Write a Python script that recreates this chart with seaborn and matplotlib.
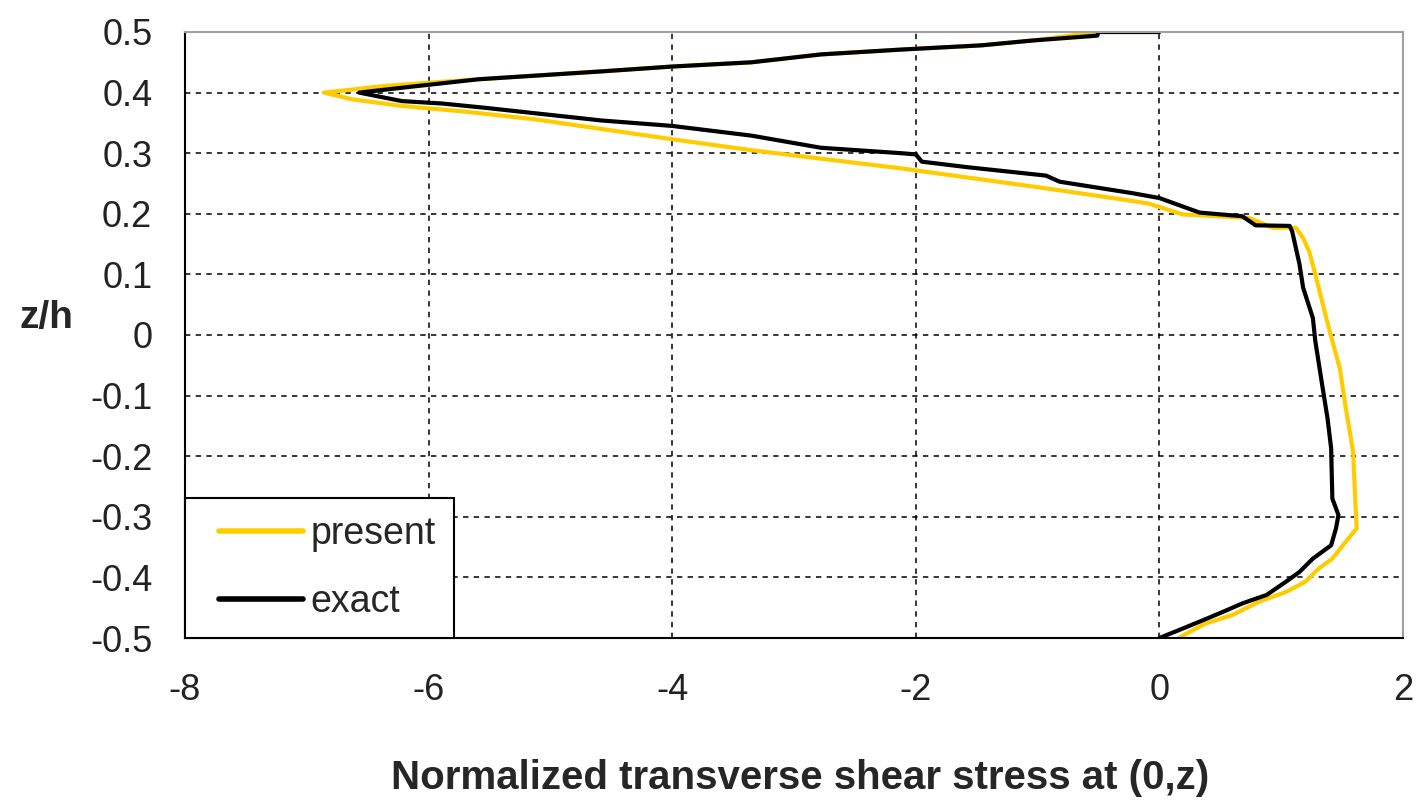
import matplotlib
matplotlib.use("Agg")
import matplotlib.pyplot as plt
import seaborn as sns
import pandas as pd

# ---- data ----
present_x = [0.0, -0.5, -1.04, -1.46, -2.12, -2.78, -3.35, -4.0, -4.58, -5.59, -5.95, -6.36, -6.86,
             -6.63, -6.22, -5.67, -5.13, -4.58, -4.0, -3.35, -2.78, -2.12, -1.58, -0.93, -0.35, -0.09,
             0.19, 0.74, 0.93, 1.12, 1.18, 1.23, 1.28, 1.37, 1.42, 1.48, 1.53, 1.59, 1.61, 1.62,
             1.53, 1.42, 1.31, 1.20, 1.04, 0.82, 0.60, 0.38, 0.22, 0.16]
present_z = [0.5, 0.5, 0.486, 0.478, 0.471, 0.463, 0.450, 0.443, 0.435, 0.422, 0.417, 0.411, 0.400,
             0.389, 0.378, 0.368, 0.356, 0.340, 0.323, 0.305, 0.291, 0.275, 0.260, 0.242, 0.225, 0.217,
             0.199, 0.193, 0.177, 0.177, 0.160, 0.138, 0.100, 0.028, -0.010, -0.054, -0.120, -0.192, -0.281, -0.319,
             -0.341, -0.369, -0.385, -0.407, -0.424, -0.440, -0.462, -0.476, -0.493, -0.5]

exact_x = [0.0, -0.5, -0.51, -1.04, -1.46, -2.12, -2.78, -3.35, -4.0, -4.58, -5.59, -6.22, -6.57,
           -6.22, -5.89, -5.54, -5.13, -4.58, -4.0, -3.35, -2.78, -2.12, -2.0, -1.95, -1.58, -0.93, -0.82,
           -0.22, 0.0, 0.33, 0.68, 0.79, 1.07, 1.09, 1.15, 1.18, 1.26, 1.28, 1.34, 1.38, 1.41, 1.42,
           1.47, 1.45, 1.41, 1.26, 1.15, 1.04, 0.88, 0.68, 0.52, 0.33, 0.16, 0.0]
exact_z = [0.5, 0.5, 0.494, 0.486, 0.478, 0.471, 0.463, 0.450, 0.443, 0.435, 0.422, 0.408, 0.400,
           0.386, 0.382, 0.375, 0.366, 0.354, 0.345, 0.329, 0.309, 0.300, 0.298, 0.286, 0.277, 0.263, 0.253,
           0.234, 0.226, 0.202, 0.196, 0.181, 0.180, 0.171, 0.117, 0.078, 0.028, -0.010, -0.087, -0.137, -0.187, -0.270,
           -0.297, -0.319, -0.347, -0.369, -0.391, -0.407, -0.429, -0.443, -0.457, -0.473, -0.487, -0.5]

x_ticks = [-8, -6, -4, -2, 0, 2]
y_ticks = [0.5, 0.4, 0.3, 0.2, 0.1, 0, -0.1, -0.2, -0.3, -0.4, -0.5]
y_tick_labels = ["0.5", "0.4", "0.3", "0.2", "0.1", "0", "-0.1", "-0.2", "-0.3", "-0.4", "-0.5"]
series_names = ["present", "exact"]
series_colors = ["#FFCC00", "#000000"]

sns.set_style("white")
plt.rcParams["font.family"] = ["Liberation Sans", "DejaVu Sans"]

df_p = pd.DataFrame({"x": present_x, "z": present_z})
df_e = pd.DataFrame({"x": exact_x, "z": exact_z})

fig = plt.figure(figsize=(14.2, 8.05), dpi=100)
ax = fig.add_axes([185 / 1420, 1 - 638 / 805, 1218 / 1420, 606 / 805])

sns.lineplot(data=df_p, x="x", y="z", sort=False, estimator=None, color=series_colors[0],
             linewidth=3.0, ax=ax, label=series_names[0])
sns.lineplot(data=df_e, x="x", y="z", sort=False, estimator=None, color=series_colors[1],
             linewidth=3.0, ax=ax, label=series_names[1])

ax.set_xlim(-8, 2)
ax.set_ylim(-0.5, 0.5)
ax.set_xticks(x_ticks)
ax.set_xticklabels([str(t) for t in x_ticks])
ax.set_yticks(y_ticks)
ax.set_yticklabels(y_tick_labels)

ax.grid(True, color="black", linestyle=(0, (3.5, 3.5)), linewidth=1.1)
ax.set_axisbelow(True)

for side in ["left", "bottom"]:
    ax.spines[side].set_color("black")
    ax.spines[side].set_linewidth(1.5)
for side in ["top", "right"]:
    ax.spines[side].set_color("#a0a0a0")
    ax.spines[side].set_linewidth(1.5)
    ax.spines[side].set_visible(True)

ax.tick_params(axis="both", direction="inout", length=17, width=1.5, color="black",
               labelsize=26, labelcolor="#222222")
ax.tick_params(axis="y", pad=15)
ax.tick_params(axis="x", pad=17)

ax.set_xlabel("Normalized transverse shear stress at (0,z)", fontsize=29, fontweight="bold")
ax.set_ylabel("z/h", fontsize=28, fontweight="bold", rotation=0)
ax.xaxis.set_label_coords(0.505, -0.231)
ax.yaxis.set_label_coords(-0.114, 0.528)
ax.xaxis.label.set_va("center")
ax.yaxis.label.set_va("center")
ax.yaxis.label.set_ha("center")

leg = ax.legend(loc="lower left", bbox_to_anchor=(0, 0), borderaxespad=0,
                fontsize=27, handlelength=2.67, handletextpad=0.2, labelspacing=0.86,
                borderpad=0.48, fancybox=False, framealpha=1, edgecolor="black")
leg.get_frame().set_linewidth(1.5)
for line in leg.get_lines():
    line.set_linewidth(4)
    xd = [float(v) for v in line.get_xdata()]
    yd = [float(v) for v in line.get_ydata()]
    x0, x1 = min(xd), max(xd)
    y0 = yd[0]
    line.set_data([x0 + 0.16 * (x1 - x0), x1], [y0, y0])

fig.savefig("out.png", dpi=100)
